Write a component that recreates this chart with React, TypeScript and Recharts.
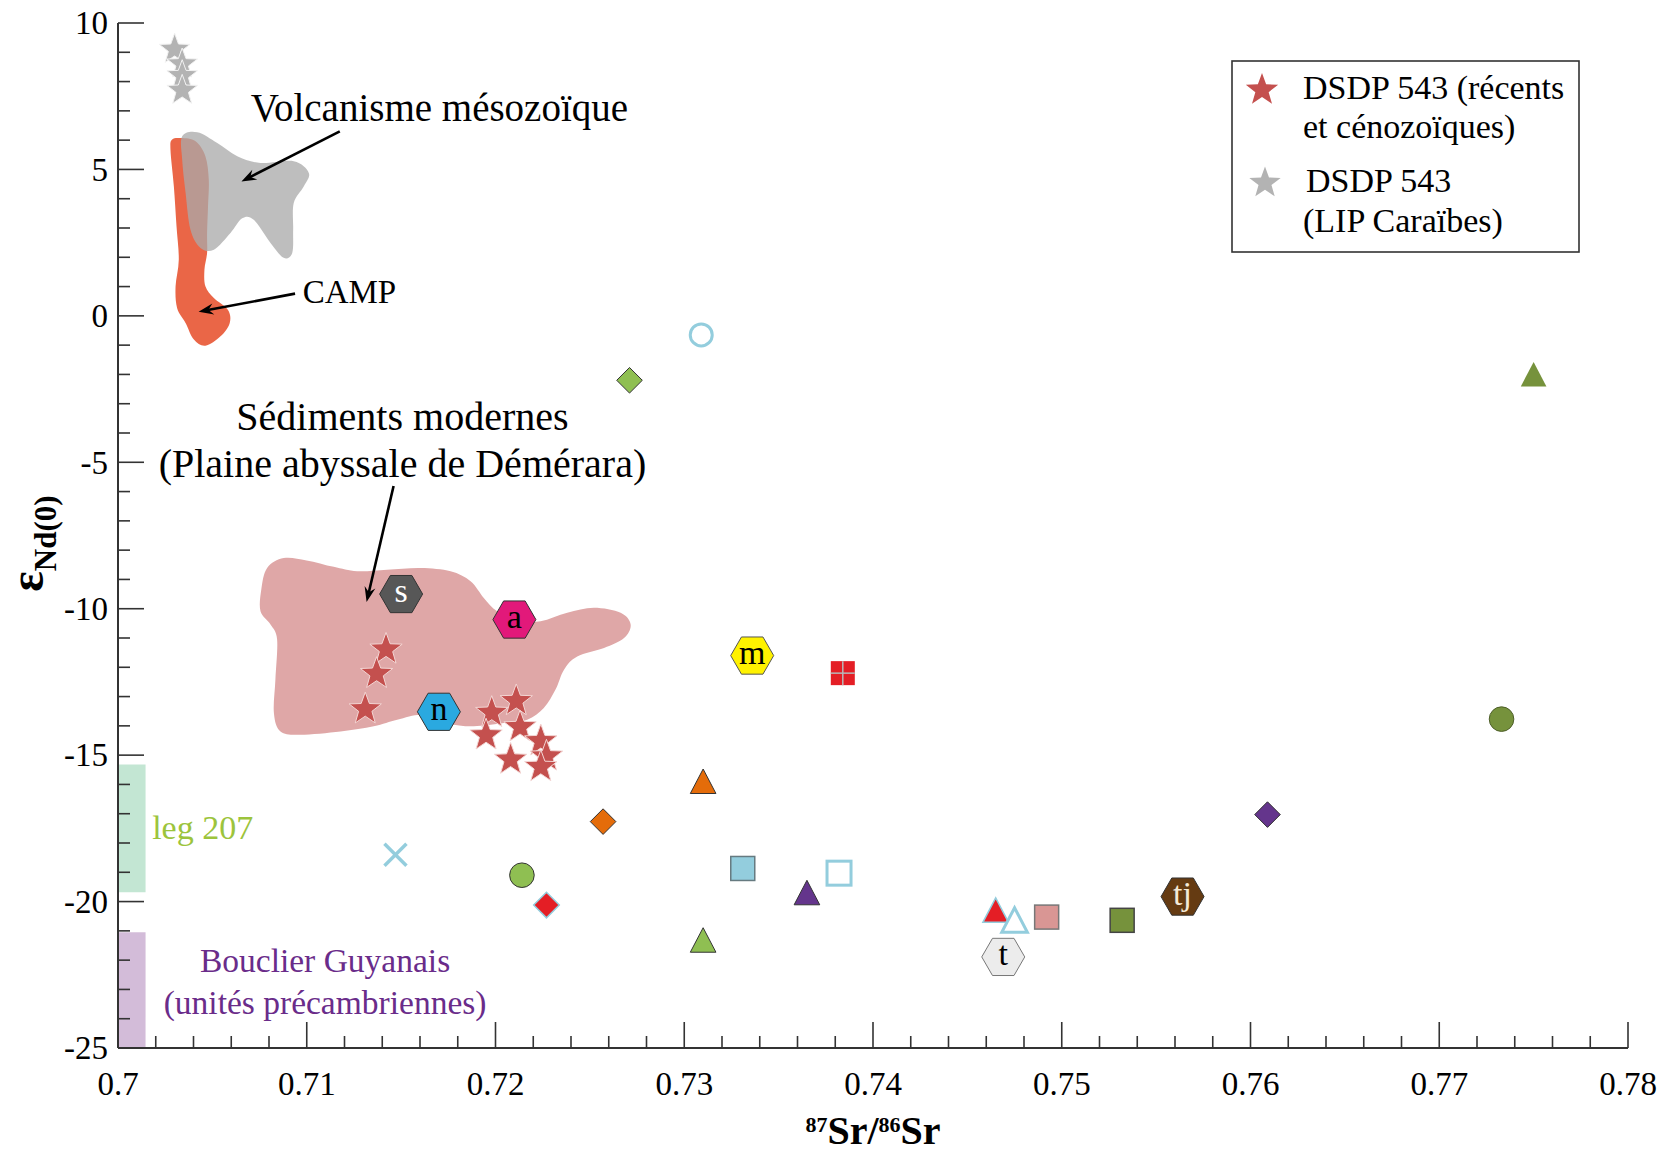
import React from "react";
import {
  Legend,
  ReferenceArea,
  ReferenceDot,
  Scatter,
  ScatterChart,
  XAxis,
  YAxis,
} from "recharts";

const W = 1664;
const H = 1154;
const FONT = '"Liberation Serif", "Times New Roman", Times, serif';
const AXIS = "#333333";

// axes
const X_MAJOR = [0.7, 0.71, 0.72, 0.73, 0.74, 0.75, 0.76, 0.77, 0.78];
const X_LABELS = ["0.7", "0.71", "0.72", "0.73", "0.74", "0.75", "0.76", "0.77", "0.78"];
const Y_MAJOR = [10, 5, 0, -5, -10, -15, -20, -25];
const Y_LABELS = ["10", "5", "0", "-5", "-10", "-15", "-20", "-25"];
const X_TICKS = Array.from({ length: 41 }, (_, i) => Number((0.7 + i * 0.002).toFixed(3)));
const Y_TICKS = Array.from({ length: 36 }, (_, i) => -25 + i);

// DSDP 543 (récents et cénozoïques)
const DSDP_RECENT = [
  { x: 0.7142, y: -11.39 },
  { x: 0.7137, y: -12.22 },
  { x: 0.7131, y: -13.43 },
  { x: 0.7198, y: -13.55 },
  { x: 0.7211, y: -13.15 },
  { x: 0.7195, y: -14.32 },
  { x: 0.7213, y: -14.04 },
  { x: 0.7208, y: -15.15 },
  { x: 0.7224, y: -14.52 },
  { x: 0.7227, y: -15.04 },
  { x: 0.7224, y: -15.4 },
];

// DSDP 543 (LIP Caraïbes)
const DSDP_LIP = [
  { x: 0.703, y: 9.1 },
  { x: 0.7034, y: 8.6 },
  { x: 0.7034, y: 8.2 },
  { x: 0.7034, y: 7.7 },
];

// other samples
const SAMPLE_IDS = [
  "openCircle", "greenDiamond", "oliveTriangle", "hexS", "hexA", "hexN", "hexM",
  "redSquare", "oliveCircle", "orangeTriangle", "orangeDiamond", "purpleDiamond",
  "blueX", "greenCircle", "blueSquare", "openSquare", "purpleTriangle", "redDiamond",
  "greenTriangle", "redTriangle", "openTriangle", "pinkSquare", "oliveSquare",
  "hexTJ", "hexT",
];
const SAMPLE_SR = [
  0.7309, 0.7271, 0.775, 0.715, 0.721, 0.717, 0.7336,
  0.7384, 0.7733, 0.731, 0.7257, 0.7609,
  0.7147, 0.7214, 0.7331, 0.7382, 0.7365, 0.7227,
  0.731, 0.7465, 0.7475, 0.7492, 0.7532,
  0.7564, 0.7469,
];
const SAMPLE_ND = [
  -0.65, -2.2, -2.0, -9.5, -10.37, -13.52, -11.6,
  -12.2, -13.77, -15.9, -17.27, -17.03,
  -18.4, -19.1, -18.87, -19.03, -19.7, -20.12,
  -21.32, -20.3, -20.64, -20.53, -20.64,
  -19.83, -21.89,
];
const SAMPLES = SAMPLE_IDS.map((id, i) => ({ id, x: SAMPLE_SR[i], y: SAMPLE_ND[i] }));

// fields (outlines in Sr / Nd space)
const CAMP_OUTLINE = [
  { x: 0.70287, y: 6.02 }, { x: 0.70335, y: 6.07 }, { x: 0.70411, y: 5.96 },
  { x: 0.70463, y: 5.45 }, { x: 0.70481, y: 4.65 }, { x: 0.70477, y: 3.74 },
  { x: 0.70472, y: 2.83 }, { x: 0.70472, y: 2.15 },
  { x: 0.70458, y: 1.58 }, { x: 0.70463, y: 1.01 }, { x: 0.70508, y: 0.61 },
  { x: 0.70582, y: 0.21 }, { x: 0.70592, y: -0.24 }, { x: 0.70543, y: -0.7 },
  { x: 0.70463, y: -1.02 }, { x: 0.70402, y: -0.81 }, { x: 0.70358, y: -0.24 },
  { x: 0.70313, y: 0.27 }, { x: 0.70305, y: 1.01 }, { x: 0.70322, y: 1.92 },
  { x: 0.7031, y: 3.06 }, { x: 0.70296, y: 4.42 }, { x: 0.70278, y: 5.67 },
];
const VOLCANISM_OUTLINE = [
  { x: 0.7034, y: 6.13 }, { x: 0.7042, y: 6.27 }, { x: 0.70526, y: 5.9 },
  { x: 0.70632, y: 5.45 }, { x: 0.70755, y: 5.22 }, { x: 0.70931, y: 5.28 },
  { x: 0.71011, y: 4.88 }, { x: 0.70984, y: 4.42 }, { x: 0.70931, y: 3.85 },
  { x: 0.70928, y: 2.94 }, { x: 0.70923, y: 2.15 }, { x: 0.70878, y: 1.98 },
  { x: 0.70808, y: 2.49 }, { x: 0.70719, y: 3.28 }, { x: 0.70658, y: 3.33 },
  { x: 0.70596, y: 2.83 }, { x: 0.70508, y: 2.26 }, { x: 0.70437, y: 2.32 },
  { x: 0.70384, y: 2.94 }, { x: 0.70358, y: 4.2 }, { x: 0.7034, y: 5.33 },
];
const SEDIMENT_OUTLINE = [
  { x: 0.7079, y: -8.61 }, { x: 0.70878, y: -8.27 }, { x: 0.70999, y: -8.35 },
  { x: 0.71143, y: -8.57 }, { x: 0.71267, y: -8.72 }, { x: 0.71426, y: -8.67 },
  { x: 0.71603, y: -8.61 }, { x: 0.71762, y: -8.72 }, { x: 0.71868, y: -9.06 },
  { x: 0.71938, y: -9.63 }, { x: 0.72009, y: -10.09 }, { x: 0.72115, y: -10.43 },
  { x: 0.72239, y: -10.43 }, { x: 0.7238, y: -10.14 }, { x: 0.72521, y: -9.97 },
  { x: 0.72663, y: -10.14 }, { x: 0.72716, y: -10.54 }, { x: 0.72681, y: -11.0 },
  { x: 0.72575, y: -11.34 }, { x: 0.72433, y: -11.63 }, { x: 0.72363, y: -12.08 },
  { x: 0.72318, y: -12.76 }, { x: 0.72256, y: -13.39 }, { x: 0.72168, y: -13.79 },
  { x: 0.72044, y: -13.9 }, { x: 0.71885, y: -14.01 }, { x: 0.71779, y: -13.96 },
  { x: 0.71709, y: -13.79 }, { x: 0.71603, y: -13.62 }, { x: 0.71479, y: -13.79 },
  { x: 0.71355, y: -14.01 }, { x: 0.71179, y: -14.19 }, { x: 0.70967, y: -14.3 },
  { x: 0.70861, y: -14.19 }, { x: 0.70826, y: -13.56 }, { x: 0.70834, y: -12.42 },
  { x: 0.70843, y: -11.05 }, { x: 0.70808, y: -10.54 }, { x: 0.70755, y: -10.09 },
  { x: 0.70759, y: -9.35 },
];
const LEG207_RANGE = [-19.68, -15.32];
const GUYANA_RANGE = [-25, -21.05];
const FIELD_BAR_SR = [0.7, 0.70146];

// annotation arrows: from, to
const ARROW_VOLCANISM = [{ x: 0.71175, y: 6.3 }, { x: 0.70654, y: 4.59 }];
const ARROW_CAMP = [{ x: 0.70938, y: 0.76 }, { x: 0.70427, y: 0.14 }];
const ARROW_SEDIMENT = [{ x: 0.7146, y: -5.81 }, { x: 0.71317, y: -9.77 }];

const RED = "#e41e25";
const LIGHT_BLUE = "#93cddd";
const LIGHT_GREEN = "#8fbf52";
const OLIVE = "#76923c";
const ORANGE = "#e46c0a";
const PURPLE = "#64358c";

type Mark = { kind: string; fill: string; stroke: string; sw: number; text?: string; textFill?: string };
const MARKERS: Record<string, Mark> = {
  openCircle: { kind: "circle", fill: "none", stroke: LIGHT_BLUE, sw: 3 },
  greenDiamond: { kind: "diamond", fill: LIGHT_GREEN, stroke: "#333", sw: 1 },
  oliveTriangle: { kind: "triangle", fill: OLIVE, stroke: "none", sw: 0 },
  hexS: { kind: "hex", fill: "#575757", stroke: "#333", sw: 1, text: "s", textFill: "#fff" },
  hexA: { kind: "hex", fill: "#e2197a", stroke: "#333", sw: 1, text: "a", textFill: "#000" },
  hexN: { kind: "hex", fill: "#2aa9e0", stroke: "#333", sw: 1, text: "n", textFill: "#000" },
  hexM: { kind: "hex", fill: "#fff200", stroke: "#555", sw: 1, text: "m", textFill: "#000" },
  redSquare: { kind: "crossSquare", fill: RED, stroke: "#b8b8b8", sw: 1.5 },
  oliveCircle: { kind: "circle", fill: OLIVE, stroke: "#4d5e28", sw: 1 },
  orangeTriangle: { kind: "triangle", fill: ORANGE, stroke: "#333", sw: 1 },
  orangeDiamond: { kind: "diamond", fill: ORANGE, stroke: "#333", sw: 1 },
  purpleDiamond: { kind: "diamond", fill: PURPLE, stroke: "#333", sw: 1 },
  blueX: { kind: "x", fill: "none", stroke: LIGHT_BLUE, sw: 3.5 },
  greenCircle: { kind: "circle", fill: LIGHT_GREEN, stroke: "#333", sw: 1 },
  blueSquare: { kind: "square", fill: LIGHT_BLUE, stroke: "#667a80", sw: 1.5 },
  openSquare: { kind: "square", fill: "#fff", stroke: LIGHT_BLUE, sw: 3 },
  purpleTriangle: { kind: "triangle", fill: PURPLE, stroke: "#333", sw: 1 },
  redDiamond: { kind: "diamond", fill: RED, stroke: LIGHT_BLUE, sw: 1.5 },
  greenTriangle: { kind: "triangle", fill: LIGHT_GREEN, stroke: "#333", sw: 1 },
  redTriangle: { kind: "triangle", fill: RED, stroke: LIGHT_BLUE, sw: 1.5 },
  openTriangle: { kind: "triangle", fill: "#fff", stroke: LIGHT_BLUE, sw: 3 },
  pinkSquare: { kind: "square", fill: "#d99694", stroke: "#777", sw: 1.5 },
  oliveSquare: { kind: "square", fill: OLIVE, stroke: "#444", sw: 1.5 },
  hexTJ: { kind: "hex", fill: "#653b12", stroke: "#333", sw: 1, text: "tj", textFill: "#f4ead8" },
  hexT: { kind: "hex", fill: "#ececec", stroke: "#777", sw: 1, text: "t", textFill: "#000" },
};

function starPoints(cx: number, cy: number, R: number, r: number) {
  const pts: string[] = [];
  for (let i = 0; i < 10; i++) {
    const a = -Math.PI / 2 + (i * Math.PI) / 5;
    const rad = i % 2 === 0 ? R : r;
    pts.push(`${cx + rad * Math.cos(a)},${cy + rad * Math.sin(a)}`);
  }
  return pts.join(" ");
}

// closed catmull-rom through pixel points
function closedPath(points: { x: number; y: number }[]) {
  const n = points.length;
  if (n < 3) return "";
  let d = `M${points[0].x},${points[0].y}`;
  for (let i = 0; i < n; i++) {
    const p0 = points[(i - 1 + n) % n];
    const p1 = points[i];
    const p2 = points[(i + 1) % n];
    const p3 = points[(i + 2) % n];
    d += `C${p1.x + (p2.x - p0.x) / 6},${p1.y + (p2.y - p0.y) / 6} ${p2.x - (p3.x - p1.x) / 6},${p2.y - (p3.y - p1.y) / 6} ${p2.x},${p2.y}`;
  }
  return d + "Z";
}

const fieldLine = (fill: string, opacity = 1) => (props: any) => (
  <path d={closedPath(props.points || [])} fill={fill} fillOpacity={opacity} stroke="none" />
);
const noDot = () => <g />;

// arrow drawn from the two scaled points of a 2-point series
function arrowLine(props: any) {
  const pts = props.points || [];
  if (pts.length < 2) return <g />;
  const { x: x1, y: y1 } = pts[0];
  const { x: x2, y: y2 } = pts[1];
  const a = Math.atan2(y2 - y1, x2 - x1);
  const c = Math.cos(a);
  const s = Math.sin(a);
  const L = 15;
  const wv = 5.5;
  const bx = x2 - L * c;
  const by = y2 - L * s;
  return (
    <g>
      <line x1={x1} y1={y1} x2={x2 - 8 * c} y2={y2 - 8 * s} stroke="#000" strokeWidth={2.6} />
      <polygon
        points={`${x2},${y2} ${bx - wv * s},${by + wv * c} ${x2 - 10 * c},${y2 - 10 * s} ${bx + wv * s},${by - wv * c}`}
        fill="#000"
      />
    </g>
  );
}

function SampleMark(props: any) {
  const { cx, cy, payload } = props;
  const m = MARKERS[payload.id];
  if (!m || cx == null) return <g />;
  const common = { fill: m.fill, stroke: m.stroke, strokeWidth: m.sw };
  switch (m.kind) {
    case "circle":
      return <circle cx={cx} cy={cy} r={m.fill === "none" ? 11 : 12.3} {...common} />;
    case "square":
      return <rect x={cx - 12} y={cy - 12} width={24} height={24} {...common} />;
    case "crossSquare":
      return (
        <g>
          <rect x={cx - 12} y={cy - 12} width={24} height={24} fill={m.fill} />
          <line x1={cx - 12} x2={cx + 12} y1={cy} y2={cy} stroke={m.stroke} strokeWidth={m.sw} />
          <line x1={cx} x2={cx} y1={cy - 12} y2={cy + 12} stroke={m.stroke} strokeWidth={m.sw} />
        </g>
      );
    case "diamond":
      return (
        <polygon
          points={`${cx},${cy - 12.8} ${cx + 12.8},${cy} ${cx},${cy + 12.8} ${cx - 12.8},${cy}`}
          {...common}
        />
      );
    case "triangle":
      return (
        <polygon
          points={`${cx},${cy - 12.5} ${cx + 12.8},${cy + 12} ${cx - 12.8},${cy + 12}`}
          {...common}
        />
      );
    case "x":
      return (
        <g stroke={m.stroke} strokeWidth={m.sw}>
          <line x1={cx - 11} y1={cy - 11} x2={cx + 11} y2={cy + 11} />
          <line x1={cx - 11} y1={cy + 11} x2={cx + 11} y2={cy - 11} />
        </g>
      );
    case "hex": {
      const R = 21.5;
      const h = 18.6;
      return (
        <g>
          <polygon
            points={`${cx - R},${cy} ${cx - R / 2},${cy - h} ${cx + R / 2},${cy - h} ${cx + R},${cy} ${cx + R / 2},${cy + h} ${cx - R / 2},${cy + h}`}
            {...common}
          />
          <text x={cx} y={cy + 8} textAnchor="middle" fontFamily={FONT} fontSize={34} fill={m.textFill}>
            {m.text}
          </text>
        </g>
      );
    }
    default:
      return <g />;
  }
}

const RecentStar = (p: any) =>
  p.cx == null ? <g /> : (
    <polygon points={starPoints(p.cx, p.cy, 17, 7)} fill="#c4504e" stroke="#f3d6d4" strokeWidth={1} />
  );
const LipStar = (p: any) =>
  p.cx == null ? <g /> : (
    <polygon points={starPoints(p.cx, p.cy, 16, 6.6)} fill="#b3b3b3" stroke="#f2f2f2" strokeWidth={1} />
  );

// ticks, all pointing inwards
const tickText = { fontFamily: FONT, fontSize: 33, fill: "#000" };

function BottomTick({ x, y, payload }: any) {
  const i = X_MAJOR.indexOf(payload.value);
  return (
    <g>
      <line x1={x} x2={x} y1={y} y2={y - (i >= 0 ? 26 : 12)} stroke={AXIS} strokeWidth={1.6} />
      {i >= 0 && (
        <text x={x} y={y + 47} textAnchor="middle" {...tickText}>
          {X_LABELS[i]}
        </text>
      )}
    </g>
  );
}
function TopTick({ x, y, payload }: any) {
  const major = X_MAJOR.indexOf(payload.value) >= 0;
  return <line x1={x} x2={x} y1={y} y2={y + (major ? 26 : 12)} stroke={AXIS} strokeWidth={1.6} />;
}
function LeftTick({ x, y, payload }: any) {
  const i = Y_MAJOR.indexOf(payload.value);
  return (
    <g>
      <line x1={x} x2={x + (i >= 0 ? 26 : 12)} y1={y} y2={y} stroke={AXIS} strokeWidth={1.6} />
      {i >= 0 && (
        <text x={x - 10} y={y} dy="0.34em" textAnchor="end" {...tickText}>
          {Y_LABELS[i]}
        </text>
      )}
    </g>
  );
}
function RightTick({ x, y, payload }: any) {
  const major = Y_MAJOR.indexOf(payload.value) >= 0;
  return <line x1={x} x2={x - (major ? 26 : 12)} y1={y} y2={y} stroke={AXIS} strokeWidth={1.6} />;
}

function XTitle(props: any) {
  const vb = props.viewBox ?? { x: 118, y: 1048, width: 1510, height: 106 };
  const cx = vb.x + vb.width / 2;
  return (
    <text x={cx} y={vb.y + 96} textAnchor="middle" fontFamily={FONT} fontWeight="bold" fontSize={40} fill="#000">
      <tspan fontSize={22} dy={-12}>87</tspan>
      <tspan dy={12}>Sr/</tspan>
      <tspan fontSize={22} dy={-12}>86</tspan>
      <tspan dy={12}>Sr</tspan>
    </text>
  );
}
function YTitle(props: any) {
  const vb = props.viewBox ?? { x: 0, y: 23, width: 118, height: 1025 };
  const x = vb.x + 43;
  const y = vb.y + vb.height / 2 + 8;
  return (
    <text x={x} y={y} transform={`rotate(-90 ${x} ${y})`} textAnchor="middle" fontFamily={FONT} fontWeight="bold" fill="#000">
      <tspan fontSize={48}>ε</tspan>
      <tspan fontSize={31} dy={13}>Nd(0)</tspan>
    </text>
  );
}

const textLabel = (lines: string[], size: number, color: string, anchor: string, lh: number) => (p: any) =>
  p.cx == null ? <g /> : (
    <text x={p.cx} y={p.cy} textAnchor={anchor} fontFamily={FONT} fontSize={size} fill={color}>
      {lines.map((l, i) => (
        <tspan key={i} x={p.cx} dy={i === 0 ? 0 : lh}>
          {l}
        </tspan>
      ))}
    </text>
  );

function LegendBox() {
  const t = { fontFamily: FONT, fontSize: 34, fill: "#000" };
  return (
    <svg width={350} height={194} style={{ display: "block" }}>
      <rect x={1} y={1} width={347} height={191} fill="#fff" stroke={AXIS} strokeWidth={1.6} />
      <polygon points={starPoints(31, 30, 17, 7)} fill="#c4504e" />
      <text x={72} y={39} {...t}>DSDP 543 (récents</text>
      <text x={72} y={78} {...t}>et cénozoïques)</text>
      <polygon points={starPoints(34, 123, 16.5, 6.8)} fill="#b3b3b3" />
      <text x={75} y={132} {...t}>DSDP 543</text>
      <text x={72} y={172} {...t}>(LIP Caraïbes)</text>
    </svg>
  );
}

export default function App() {
  return (
    <div style={{ position: "absolute", left: 0, top: 0, width: W, height: H, background: "#fff" }}>
      <ScatterChart width={W} height={H} margin={{ top: 23, right: 36, bottom: 0, left: 0 }}>
        <XAxis
          type="number"
          dataKey="x"
          domain={[0.7, 0.78]}
          allowDataOverflow
          ticks={X_TICKS}
          interval={0}
          height={106}
          tickSize={0}
          tickMargin={0}
          tickLine={false}
          tick={<BottomTick />}
          axisLine={{ stroke: AXIS, strokeWidth: 2 }}
          label={XTitle}
        />
        <XAxis
          xAxisId="top"
          orientation="top"
          type="number"
          dataKey="x"
          domain={[0.7, 0.78]}
          allowDataOverflow
          ticks={X_TICKS}
          interval={0}
          height={0}
          tickSize={0}
          tickMargin={0}
          tickLine={false}
          tick={<TopTick />}
          axisLine={{ stroke: AXIS, strokeWidth: 2 }}
        />
        <YAxis
          type="number"
          dataKey="y"
          domain={[-25, 10]}
          allowDataOverflow
          ticks={Y_TICKS}
          interval={0}
          width={118}
          tickSize={0}
          tickMargin={0}
          tickLine={false}
          tick={<LeftTick />}
          axisLine={{ stroke: AXIS, strokeWidth: 2 }}
          label={YTitle}
        />
        <YAxis
          yAxisId="right"
          orientation="right"
          type="number"
          dataKey="y"
          domain={[-25, 10]}
          allowDataOverflow
          ticks={Y_TICKS}
          interval={0}
          width={0}
          tickSize={0}
          tickMargin={0}
          tickLine={false}
          tick={<RightTick />}
          axisLine={{ stroke: AXIS, strokeWidth: 2 }}
        />

        <ReferenceArea x1={FIELD_BAR_SR[0]} x2={FIELD_BAR_SR[1]} y1={LEG207_RANGE[0]} y2={LEG207_RANGE[1]} fill="#c3e6d3" fillOpacity={1} stroke="none" />
        <ReferenceArea x1={FIELD_BAR_SR[0]} x2={FIELD_BAR_SR[1]} y1={GUYANA_RANGE[0]} y2={GUYANA_RANGE[1]} fill="#d3bcd9" fillOpacity={1} stroke="none" />

        <Scatter data={CAMP_OUTLINE} line={fieldLine("#ea6647")} shape={noDot} isAnimationActive={false} legendType="none" />
        <Scatter data={VOLCANISM_OUTLINE} line={fieldLine("#a9a9a9", 0.76)} shape={noDot} isAnimationActive={false} legendType="none" />
        <Scatter data={SEDIMENT_OUTLINE} line={fieldLine("#dfa7a7")} shape={noDot} isAnimationActive={false} legendType="none" />

        <Scatter data={ARROW_VOLCANISM} line={arrowLine} shape={noDot} isAnimationActive={false} legendType="none" />
        <Scatter data={ARROW_CAMP} line={arrowLine} shape={noDot} isAnimationActive={false} legendType="none" />
        <Scatter data={ARROW_SEDIMENT} line={arrowLine} shape={noDot} isAnimationActive={false} legendType="none" />

        <ReferenceDot x={0.71703} y={6.64} r={0} shape={textLabel(["Volcanisme mésozoïque"], 39, "#000", "middle", 0)} />
        <ReferenceDot x={0.71226} y={0.44} r={0} shape={textLabel(["CAMP"], 33, "#000", "middle", 0)} />
        <ReferenceDot x={0.71507} y={-3.91} r={0} shape={textLabel(["Sédiments modernes", "(Plaine abyssale de Démérara)"], 40, "#000", "middle", 46.6)} />
        <ReferenceDot x={0.70181} y={-17.85} r={0} shape={textLabel(["leg 207"], 34, "#9cc43c", "start", 0)} />
        <ReferenceDot x={0.71097} y={-22.42} r={0} shape={textLabel(["Bouclier Guyanais", "(unités précambriennes)"], 33.5, "#6a2c8a", "middle", 42)} />

        <Scatter name="samples" data={SAMPLES} shape={SampleMark} isAnimationActive={false} legendType="none" />
        <Scatter name="DSDP 543 (récents et cénozoïques)" data={DSDP_RECENT} shape={RecentStar} isAnimationActive={false} />
        <Scatter name="DSDP 543 (LIP Caraïbes)" data={DSDP_LIP} shape={LipStar} isAnimationActive={false} />

        <Legend
          layout="horizontal"
          verticalAlign="middle"
          align="center"
          wrapperStyle={{ position: "absolute", left: 1231, top: 60, width: 350, height: 194 }}
          content={() => <LegendBox />}
        />
      </ScatterChart>
    </div>
  );
}
